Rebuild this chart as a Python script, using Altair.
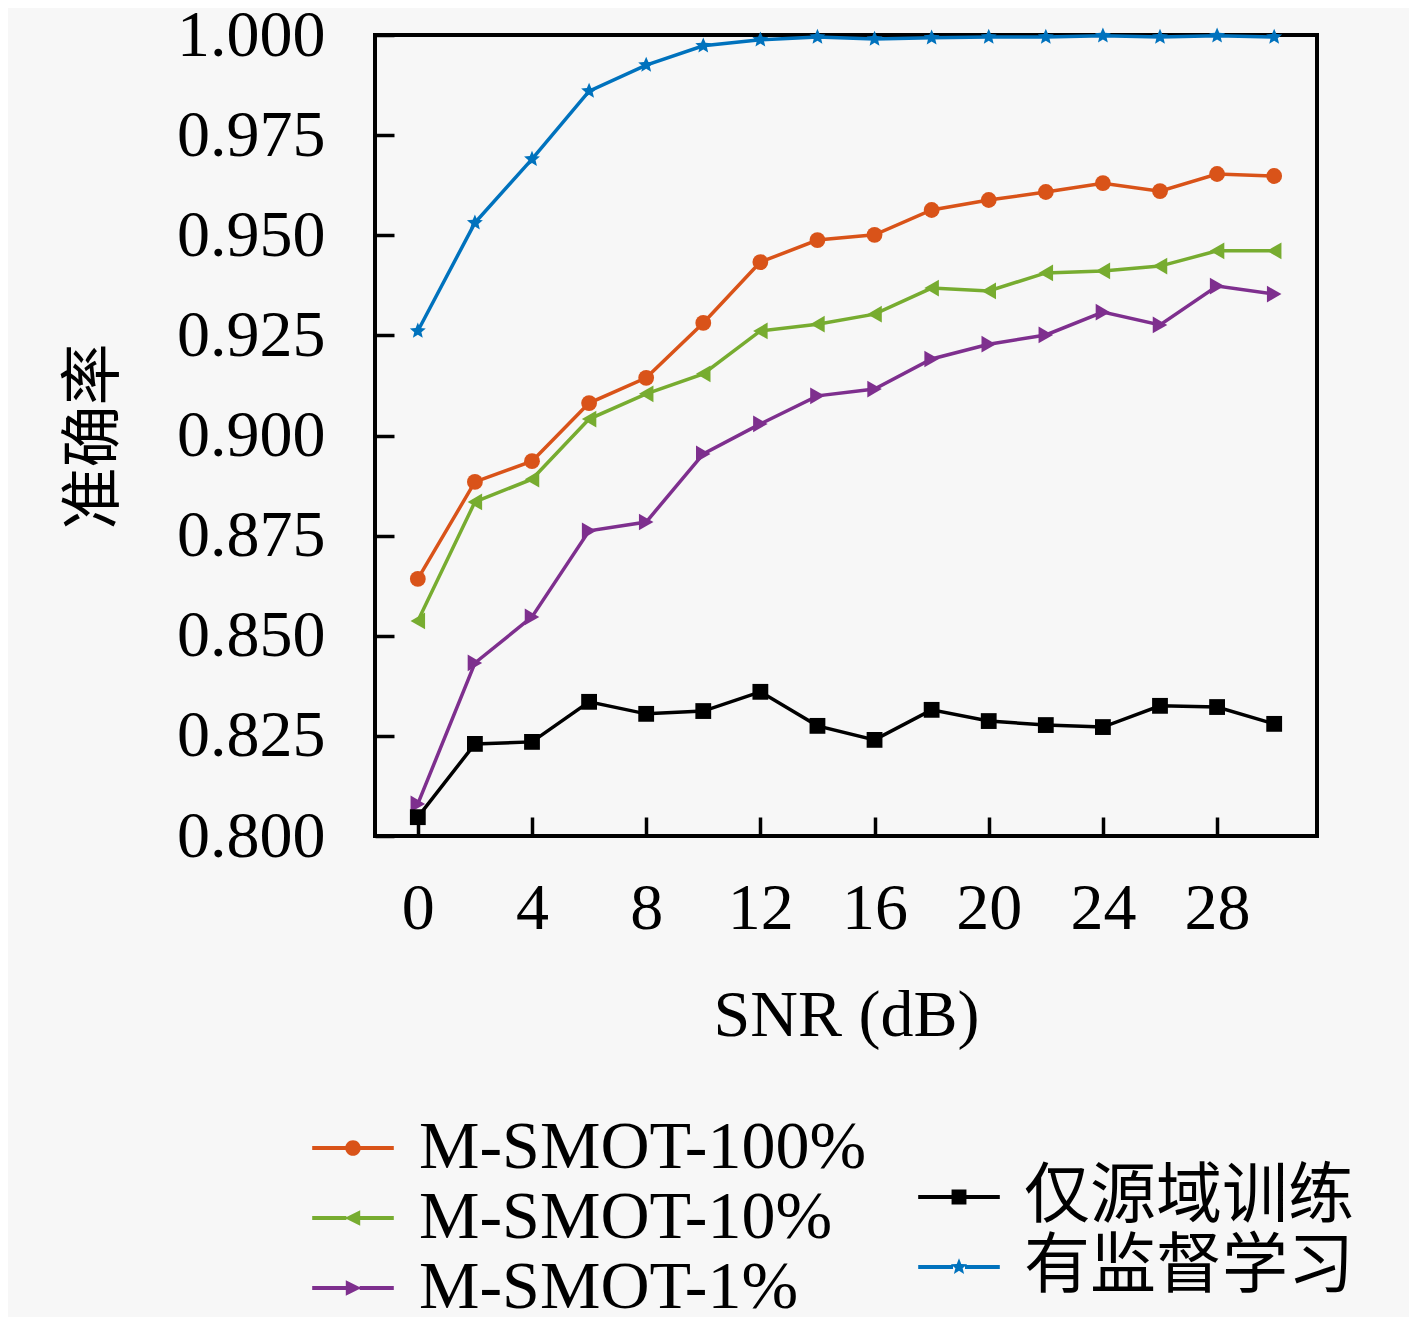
import math
import pandas as pd
import altair as alt

# ---------------- data ----------------
snr = [0, 2, 4, 6, 8, 10, 12, 14, 16, 18, 20, 22, 24, 26, 28, 30]
acc_100 = [0.8642, 0.8884, 0.8936, 0.9081, 0.9144, 0.9281, 0.9433, 0.9488,
           0.9501, 0.9563, 0.9588, 0.9608, 0.9630, 0.9610, 0.9653, 0.9648]
acc_10 = [0.8537, 0.8834, 0.8891, 0.9041, 0.9104, 0.9154, 0.9261, 0.9278,
          0.9303, 0.9368, 0.9361, 0.9406, 0.9411, 0.9423, 0.9461, 0.9461]
acc_1 = [0.8080, 0.8432, 0.8547, 0.8762, 0.8784, 0.8954, 0.9029, 0.9099,
         0.9116, 0.9191, 0.9228, 0.9251, 0.9308, 0.9276, 0.9373, 0.9353]
acc_src = [0.8047, 0.8230, 0.8235, 0.8335, 0.8305, 0.8312, 0.8360, 0.8275,
           0.8240, 0.8315, 0.8287, 0.8277, 0.8272, 0.8325, 0.8322, 0.8280]
acc_sup = [0.9261, 0.9531, 0.9690, 0.9860, 0.9925, 0.9973, 0.9988, 0.9995,
           0.9990, 0.9993, 0.9995, 0.9995, 0.9998, 0.9995, 0.9998, 0.9995]

series_names = ["M-SMOT-100%", "M-SMOT-10%", "M-SMOT-1%", "仅源域训练", "有监督学习"]
series_values = [acc_100, acc_10, acc_1, acc_src, acc_sup]
series_colors = ["#D95319", "#77AC30", "#7E2F8E", "#000000", "#0072BD"]

x_ticks = [0, 4, 8, 12, 16, 20, 24, 28]
y_ticks = [0.800, 0.825, 0.850, 0.875, 0.900, 0.925, 0.950, 0.975, 1.000]

rows = []
for name, vals in zip(series_names, series_values):
    for s, v in zip(snr, vals):
        rows.append({"snr": s, "acc": v, "series": name})
df = pd.DataFrame(rows)

# ---------------- styles ----------------
LATIN = "Liberation Serif"
CJK = "Noto Sans CJK SC"
FS = 66


def star_path(ro, ri):
    pts = []
    for k in range(10):
        ang = -math.pi / 2 + k * math.pi / 5
        r = ro if k % 2 == 0 else ri
        pts.append(f"{r * math.cos(ang):.3f},{r * math.sin(ang):.3f}")
    return "M" + "L".join(pts) + "Z"


def bars(h, L=3.4, t=0.17):
    return (f"M{-L},{-t}H{-h}V{t}H{-L}Z "
            f"M{h},{-t}H{L}V{t}H{h}Z ")


leg_circle = bars(0.6) + "M0.65,0A0.65,0.65 0 1,1 -0.65,0A0.65,0.65 0 1,1 0.65,0Z"
leg_tri_left = bars(0.55) + "M-0.7,0L0.6,-0.65L0.6,0.65Z"
leg_tri_right = bars(0.55) + "M0.7,0L-0.6,0.65L-0.6,-0.65Z"
leg_square = bars(0.6) + "M-0.62,-0.62H0.62V0.62H-0.62Z"
leg_star = bars(0.5) + star_path(0.72, 0.32)

marker_shapes = ["circle", "triangle-left", "triangle-right", "square", star_path(1.0, 0.45)]
marker_sizes = [250, 280, 280, 250, 280]

x_enc = alt.X(
    "snr:Q",
    scale=alt.Scale(domain=[-1.5, 31.5], nice=False, zero=False),
    axis=alt.Axis(
        values=x_ticks, title="SNR (dB)", domain=False, grid=False,
        tickSize=alt.ExprRef(expr="-19"), tickWidth=3.5, tickColor="black",
        labelFont=LATIN, labelFontSize=FS, labelColor="black",
        labelPadding=91, labelBaseline="middle", labelFlush=False,
        titleFont=LATIN, titleFontSize=FS, titleFontWeight="normal",
        titleColor="black", titleX=471, titleY=179, titleBaseline="middle",
    ),
)
y_enc = alt.Y(
    "acc:Q",
    scale=alt.Scale(domain=[0.8, 1.0], nice=False, zero=False),
    axis=alt.Axis(
        values=y_ticks, format=".3f", title="准确率", domain=False, grid=False,
        tickSize=alt.ExprRef(expr="-19"), tickWidth=3.5, tickColor="black",
        labelFont=LATIN, labelFontSize=FS, labelColor="black",
        labelPadding=69, labelFlush=False,
        titleFont=CJK, titleFontSize=62, titleFontWeight="normal",
        titleColor="black", titleX=-281, titleY=401, titleAngle=270,
        titleBaseline="middle", titleAlign="center",
    ),
)

base = alt.Chart(df).encode(x=x_enc, y=y_enc)

layers = []
for name, col, shp, sz in zip(series_names, series_colors, marker_shapes, marker_sizes):
    sub = base.transform_filter(alt.datum.series == name)
    layers.append(sub.mark_line(color=col, strokeWidth=3.5))
    layers.append(sub.mark_point(shape=shp, filled=True, size=sz, color=col, opacity=1))


def make_legend(x, y, font, fs):
    return alt.Legend(
        orient="none", legendX=x, legendY=y, direction="vertical", title=None,
        labelFont=font, labelFontSize=fs, labelColor="black", labelLimit=2000,
        symbolSize=576, symbolOffset=30, labelOffset=32, symbolOpacity=1,
        symbolStrokeWidth=0, rowPadding=70 - fs, padding=0,
    )


names_a = series_names[:3]
names_b = series_names[3:]
leg_a = make_legend(-86, 1079, LATIN, 68)
leg_b = make_legend(521, 1129, CJK, 66)

legend_a = base.transform_filter(
    alt.FieldOneOfPredicate(field="series", oneOf=names_a)
).mark_point(filled=True, opacity=0).encode(
    color=alt.Color("series:N", scale=alt.Scale(domain=names_a, range=series_colors[:3]), legend=leg_a),
    shape=alt.Shape("series:N", scale=alt.Scale(domain=names_a, range=[leg_circle, leg_tri_left, leg_tri_right]), legend=leg_a),
)
legend_b = base.transform_filter(
    alt.FieldOneOfPredicate(field="series", oneOf=names_b)
).mark_point(filled=True, opacity=0).encode(
    color=alt.Color("series:N", scale=alt.Scale(domain=names_b, range=series_colors[3:]), legend=leg_b),
    shape=alt.Shape("series:N", scale=alt.Scale(domain=names_b, range=[leg_square, leg_star]), legend=leg_b),
)

chart = alt.layer(*layers, legend_a, legend_b).resolve_scale(
    color="independent", shape="independent"
).properties(
    width=942, height=801,
    autosize=alt.AutoSizeParams(type="none"),
    padding={"left": 367, "top": 27, "right": 92, "bottom": 481},
    background="#f7f7f7",
).configure_view(stroke="black", strokeWidth=4)

chart.save("out.html", embed_options={"renderer": "svg", "actions": False})
